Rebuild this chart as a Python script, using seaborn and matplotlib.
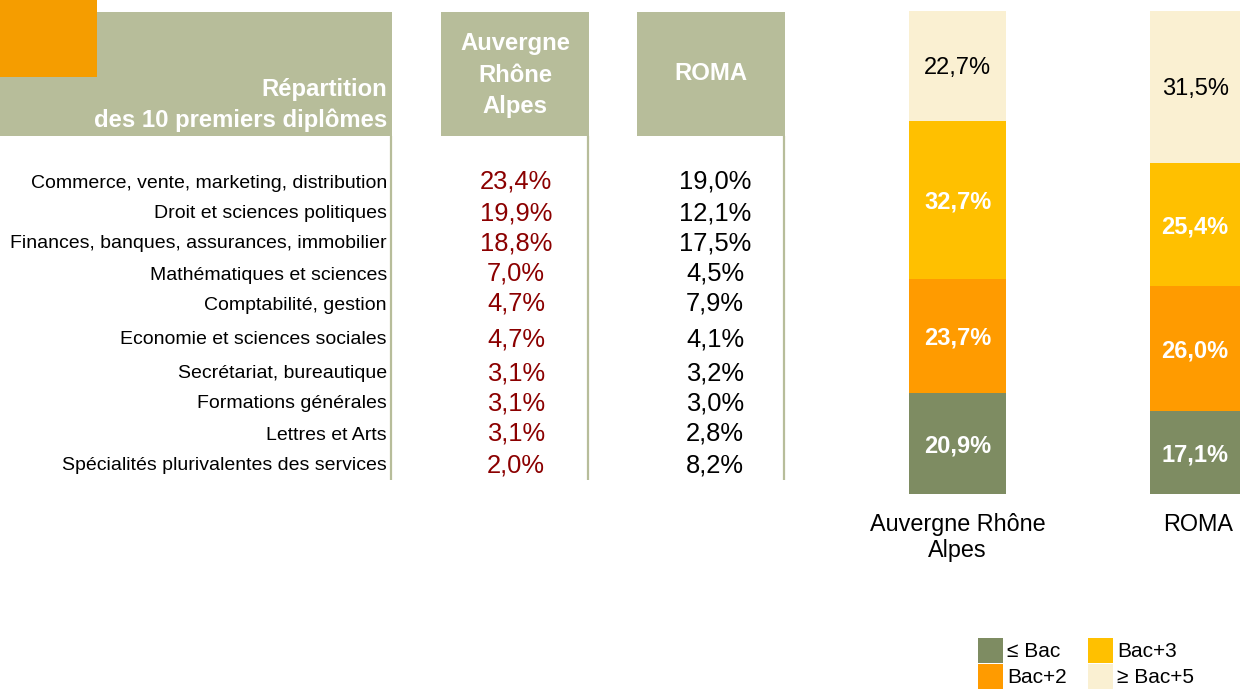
import matplotlib
matplotlib.use("Agg")
import matplotlib.pyplot as plt
import seaborn as sns
import pandas as pd
from matplotlib.patches import Rectangle, Patch
from matplotlib import font_manager as fm

# ---------------- data ----------------
table_title = "Répartition\ndes 10 premiers diplômes"
table_cols = ["Auvergne\nRhône\nAlpes", "ROMA"]
categories = [
    "Commerce, vente, marketing, distribution",
    "Droit et sciences politiques",
    "Finances, banques, assurances, immobilier",
    "Mathématiques et sciences",
    "Comptabilité, gestion",
    "Economie et sciences sociales",
    "Secrétariat, bureautique",
    "Formations générales",
    "Lettres et Arts",
    "Spécialités plurivalentes des services",
]
aura_share = [23.4, 19.9, 18.8, 7.0, 4.7, 4.7, 3.1, 3.1, 3.1, 2.0]
roma_share = [19.0, 12.1, 17.5, 4.5, 7.9, 4.1, 3.2, 3.0, 2.8, 8.2]

regions = ["Auvergne Rhône\nAlpes", "ROMA"]
levels = ["≤ Bac", "Bac+2", "Bac+3", "≥ Bac+5"]
aura_levels = [20.9, 23.7, 32.7, 22.7]
roma_levels = [17.1, 26.0, 25.4, 31.5]

# ---------------- style ----------------
sns.set_theme(style="white")
plt.rcParams["font.family"] = ["Liberation Sans", "DejaVu Sans"]

def has_font(name):
    try:
        fm.findfont(fm.FontProperties(family=name), fallback_to_default=False)
        return True
    except Exception:
        return False

if has_font("Liberation Sans Narrow"):
    label_family = ["Liberation Sans Narrow", "DejaVu Sans"]
    label_size = 17.0
else:
    label_family = ["Liberation Sans", "DejaVu Sans"]
    label_size = 14.0

HDR = "#B7BD9A"
ORANGE_SQ = "#F59D00"
RED = "#8B0000"
level_colors = ["#7E8C62", "#FF9B00", "#FFC000", "#FAF0D2"]
label_colors = ["white", "white", "white", "black"]
label_weights = ["bold", "bold", "bold", "normal"]

W, H = 1240, 689
fig = plt.figure(figsize=(W / 100, H / 100), dpi=100)
fig.patch.set_facecolor("white")

# ---------------- table (pixel-space axes) ----------------
tab = fig.add_axes([0, 0, 1, 1])
tab.set_xlim(0, W)
tab.set_ylim(H, 0)
tab.axis("off")

# header boxes
tab.add_patch(Rectangle((0, 12), 392, 124, color=HDR, lw=0))
tab.add_patch(Rectangle((441, 12), 148, 124, color=HDR, lw=0))
tab.add_patch(Rectangle((637, 12), 148, 124, color=HDR, lw=0))
tab.add_patch(Rectangle((0, 0), 97, 77, color=ORANGE_SQ, lw=0))
for xl in (391, 588, 784):
    tab.plot([xl, xl], [136, 480], color=HDR, lw=1.6, solid_capstyle="butt")

tab.text(387, 105, table_title, ha="right", va="center", color="white",
         fontsize=17.2, fontweight="bold", linespacing=1.45, multialignment="right")
tab.text(515, 75, table_cols[0], ha="center", va="center", color="white",
         fontsize=17.2, fontweight="bold", linespacing=1.45)
tab.text(711, 74, table_cols[1], ha="center", va="center", color="white",
         fontsize=17.2, fontweight="bold")

row_y = [181, 212, 242, 273, 303, 338, 372, 402, 433, 464]
fmt = lambda v: f"{v:.1f}%".replace(".", ",")
for y, cat, a, r in zip(row_y, categories, aura_share, roma_share):
    tab.text(387, y + 2, cat, ha="right", va="center", color="black",
             fontsize=label_size, family=label_family)
    tab.text(516, y + 1, fmt(a), ha="center", va="center", color=RED, fontsize=18.4)
    tab.text(715, y + 1, fmt(r), ha="center", va="center", color="black", fontsize=18.4)

# ---------------- stacked bars ----------------
ax = fig.add_axes([860 / W, (H - 494) / H, 380 / W, 483 / H])
ax.patch.set_alpha(0)

rows = []
for reg, vals in zip(regions, [aura_levels, roma_levels]):
    cum = 0.0
    for lev, v in zip(levels, vals):
        rows.append({"region": reg, "level": lev, "value": v, "bottom": cum})
        cum += v
df = pd.DataFrame(rows)

for lev, col, lc, lw in zip(levels, level_colors, label_colors, label_weights):
    sub = df[df["level"] == lev].set_index("region").loc[regions].reset_index()
    sns.barplot(data=sub, x="region", y="value", order=regions, color=col,
                saturation=1, width=0.4, errorbar=None, bottom=sub["bottom"].values,
                linewidth=0, ax=ax)
    anns = ax.bar_label(ax.containers[-1], labels=[fmt(v) for v in sub["value"]],
                        label_type="center", color=lc, fontsize=17, fontweight=lw)
    for t in anns:
        t.xyann = (0, -1.5)

ax.set_xlim(-0.405, 1.172)
ax.set_ylim(0, 100)
ax.set_xlabel("")
ax.set_ylabel("")
ax.set_yticks([])
ax.set_xticks([0, 1])
ax.set_xticklabels(regions, fontsize=16.8, color="black")
ax.tick_params(axis="x", length=0, pad=13.5)
sns.despine(ax=ax, left=True, bottom=True)

# ---------------- legend ----------------
handles = [Patch(facecolor=c, edgecolor="none", label=l) for c, l in zip(level_colors, levels)]
fig.legend(handles=handles, loc="upper left", bbox_to_anchor=(978 / W, 1 - 638 / H),
           ncol=2, frameon=False, fontsize=15, handlelength=1.2, handleheight=1.45,
           handletextpad=0.2, columnspacing=1.0, labelspacing=0.05, labelcolor="black",
           borderpad=0, borderaxespad=0)

fig.savefig("out.png", dpi=100, facecolor="white")
